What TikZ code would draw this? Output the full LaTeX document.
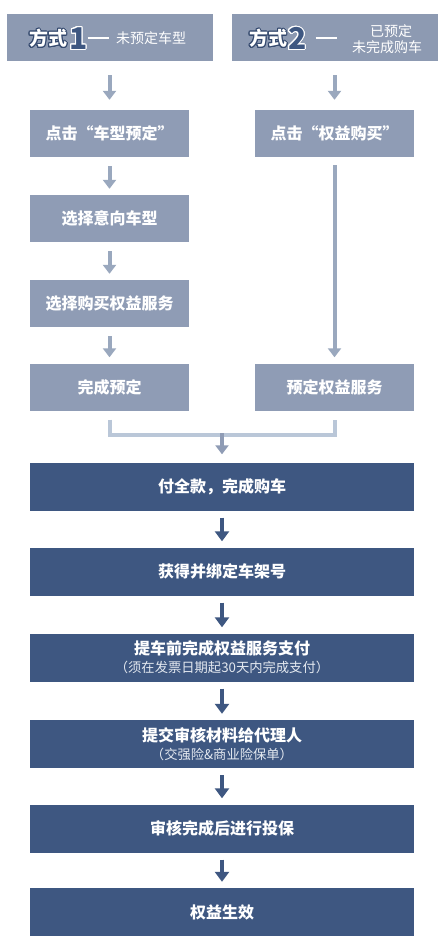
\documentclass[tikz,border=0pt]{standalone}
\usepackage{fontspec}
\setmainfont{Noto Sans CJK SC}
\usepackage{contour}
\contourlength{1.1pt}
\usetikzlibrary{arrows.meta}
\definecolor{hdr}{HTML}{8D9AB2}
\definecolor{lite}{HTML}{8F9CB5}
\definecolor{dark}{HTML}{3E5781}
\definecolor{larrow}{HTML}{9AA8BE}
\definecolor{mline}{HTML}{BAC7D8}
\definecolor{subt}{HTML}{E4E9F0}
\definecolor{dkline}{HTML}{34496E}
\tikzset{
  hbox/.style={fill=hdr, minimum width=206pt, minimum height=47pt, inner sep=0pt},
  lbox/.style={fill=lite, minimum width=159pt, minimum height=47pt, inner sep=0pt, text=white,
    font=\bfseries\fontsize{16}{19}\selectfont},
  dbox/.style={fill=dark, minimum width=384pt, minimum height=48pt, inner sep=0pt, text=white,
    align=center, font=\bfseries\fontsize{16}{19}\selectfont},
  larr/.style={draw=larrow, line width=4pt, -{Triangle[width=13pt,length=9pt]}},
  darr/.style={draw=dark, line width=4.5pt, -{Triangle[width=14pt,length=10pt]}},
  mrg/.style={draw=mline, line width=4pt, line join=miter},
  htxt/.style={inner sep=0pt, text=white},
}
\begin{document}
\begin{tikzpicture}[x=1pt,y=-1pt]
\useasboundingbox[fill=white] (0,0) rectangle (444,943);

% headers
\node[hbox] (h1) at (109.5,37.5) {};
\node[hbox] (h2) at (334.5,37.5) {};
\node[htxt, anchor=west, font=\bfseries\fontsize{19}{19}\selectfont] (h1a) at (29,39) {\contour{dkline}{方式}};
\node[htxt, anchor=west, font=\bfseries\fontsize{30}{30}\selectfont, text=dark] (h1b) at (69,39) {\contour{white}{1}};
\node[htxt, anchor=center] (h1c) at (98,38) {\rule[0pt]{21pt}{1.3pt}};
\node[htxt, anchor=west, font=\fontsize{14}{14}\selectfont] (h1d) at (116,38) {未预定车型};

\node[htxt, anchor=west, font=\bfseries\fontsize{19}{19}\selectfont] (h2a) at (249,39) {\contour{dkline}{方式}};
\node[htxt, anchor=west, font=\bfseries\fontsize{30}{30}\selectfont, text=dark] (h2b) at (288,39) {\contour{white}{2}};
\node[htxt, anchor=center] (h2c) at (326,38) {\rule[0pt]{21pt}{1.3pt}};
\node[htxt, anchor=center, font=\fontsize{14}{14}\selectfont] (h2d) at (391,31) {已预定};
\node[htxt, anchor=center, font=\fontsize{14}{14}\selectfont] (h2e) at (387,47) {未完成购车};

% light boxes
\node[lbox] (a1) at (109.5,133.5) {点击“车型预定”};
\node[lbox] (a2) at (109.5,218.5) {选择意向车型};
\node[lbox] (a3) at (109.5,303.5) {选择购买权益服务};
\node[lbox] (a4) at (109.5,387) {完成预定};
\node[lbox] (r1) at (334.5,133.5) {点击“权益购买”};
\node[lbox] (r2) at (334.5,387) {预定权益服务};

% dark boxes
\node[dbox] (d1) at (222,486.5) {付全款，完成购车};
\node[dbox] (d2) at (222,571.5) {获得并绑定车架号};
\node[dbox] (d3) at (222,657.5) {提车前完成权益服务支付\\[-1pt]{\mdseries\fontsize{13.3}{15}\selectfont\color{subt}（须在发票日期起30天内完成支付）}};
\node[dbox] (d4) at (222,744) {提交审核材料给代理人\\[-1pt]{\mdseries\fontsize{13.3}{15}\selectfont\color{subt}（交强险\&商业险保单）}};
\node[dbox] (d5) at (222,828.5) {审核完成后进行投保};
\node[dbox] (d6) at (222,912) {权益生效};

% light arrows
\draw[larr, shorten <=14pt, shorten >=10pt] (h1) -- (a1);
\draw[larr, shorten <=14pt, shorten >=10pt] (h2) -- (r1);
\draw[larr, shorten <=9pt, shorten >=6pt] (a1) -- (a2);
\draw[larr, shorten <=9pt, shorten >=6pt] (a2) -- (a3);
\draw[larr, shorten <=9pt, shorten >=6pt] (a3) -- (a4);
\draw[larr, shorten <=8pt, shorten >=6pt] (r1) -- (r2);

% merge
\coordinate (mj) at (222,435);
\draw[mrg, shorten <=9pt, shorten >=9pt] (a4.south) |- (mj) -| (r2.south);
\draw[larr, draw=lite, shorten <=-2pt, shorten >=8pt] (mj) -- (d1);

% dark arrows
\draw[darr, shorten <=7pt, shorten >=6pt] (d1) -- (d2);
\draw[darr, shorten <=7pt, shorten >=6pt] (d2) -- (d3);
\draw[darr, shorten <=7pt, shorten >=6pt] (d3) -- (d4);
\draw[darr, shorten <=7pt, shorten >=6pt] (d4) -- (d5);
\draw[darr, shorten <=7pt, shorten >=6pt] (d5) -- (d6);
\end{tikzpicture}
\end{document}
